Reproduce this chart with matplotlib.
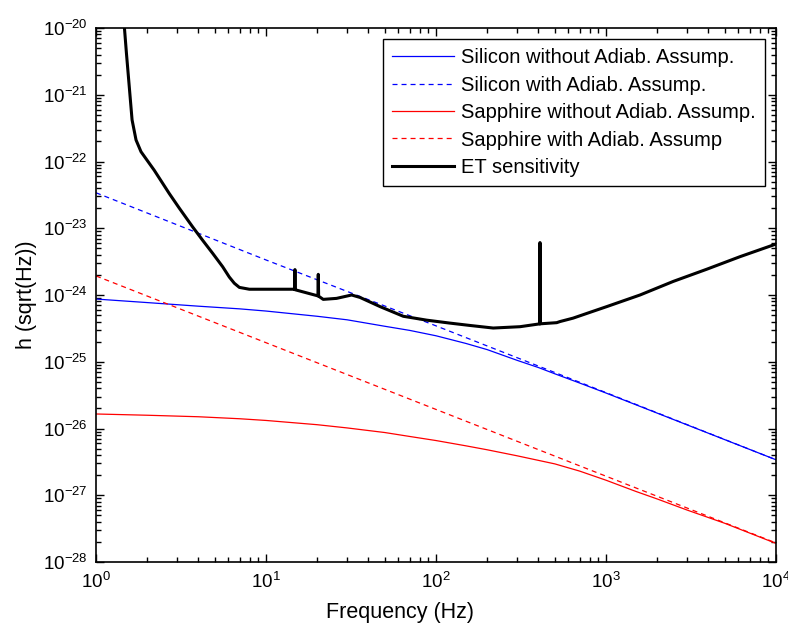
import matplotlib
matplotlib.use("Agg")
import matplotlib.pyplot as plt
from matplotlib.ticker import LogLocator, NullFormatter

plt.rcParams['font.family'] = ['Liberation Sans', 'DejaVu Sans']
plt.rcParams['mathtext.fontset'] = 'custom'
plt.rcParams['mathtext.rm'] = 'Liberation Sans'
plt.rcParams['mathtext.it'] = 'Liberation Sans'
plt.rcParams['lines.scale_dashes'] = False

# ---- data ----
f_si = [1, 2, 4, 7, 10, 20, 30, 50, 70, 100, 150, 200, 300, 400, 500, 700,
        1000, 2000, 5000, 10000]
h_si = [8.7e-25, 7.7e-25, 6.8e-25, 6.2e-25, 5.75e-25, 4.8e-25, 4.25e-25,
        3.4e-25, 2.95e-25, 2.45e-25, 1.88e-25, 1.52e-25, 1.05e-25, 8.2e-26,
        6.6e-26, 4.8e-26, 3.4e-26, 1.7e-26, 6.8e-27, 3.4e-27]

f_si_ad = [1, 10, 100, 1000, 10000]
h_si_ad = [3.4e-23, 3.35e-24, 3.45e-25, 3.45e-26, 3.4e-27]

f_sa = [1, 2, 4, 7, 10, 20, 30, 50, 70, 100, 150, 200, 300, 500, 700, 1000,
        1500, 2000, 3000, 5000, 10000]
h_sa = [1.65e-26, 1.58e-26, 1.5e-26, 1.4e-26, 1.32e-26, 1.14e-26, 1.02e-26,
        8.7e-27, 7.6e-27, 6.6e-27, 5.5e-27, 4.8e-27, 3.9e-27, 2.95e-27,
        2.3e-27, 1.68e-27, 1.14e-27, 8.8e-28, 6.0e-28, 3.8e-28, 1.9e-28]

f_sa_ad = [1, 10, 100, 1000, 10000]
h_sa_ad = [1.93e-24, 1.93e-25, 1.93e-26, 1.93e-27, 1.93e-28]

f_et = [1.47, 1.51, 1.57, 1.63, 1.72, 1.84, 2.2, 2.7, 3.09, 3.7, 4.24, 4.86,
        5.56, 6.08, 6.51, 6.97, 7.98, 14.79, 14.8, 14.81, 20.2, 20.3, 20.4,
        21.7, 26, 31.9, 35.7, 46.9, 64.2, 88.1, 120, 158, 217, 312, 408.9,
        409, 409.1, 513, 536, 640, 805, 1010, 1585, 2490, 3910, 6140, 10000]
h_et = [1.0e-20, 4.2e-21, 1.3e-21, 4.2e-22, 2.1e-22, 1.4e-22, 7.4e-23,
        3.3e-23, 2.0e-23, 1.05e-23, 6.6e-24, 4.2e-24, 2.65e-24, 1.86e-24,
        1.5e-24, 1.3e-24, 1.22e-24, 1.22e-24, 2.4e-24, 1.2e-24, 9.7e-25,
        2.04e-24, 9.6e-25, 8.6e-25, 8.9e-25, 1.0e-24, 9.2e-25, 6.7e-25,
        4.8e-25, 4.2e-25, 3.8e-25, 3.5e-25, 3.2e-25, 3.35e-25, 3.7e-25,
        6.1e-24, 3.7e-25, 3.85e-25, 4.0e-25, 4.5e-25, 5.5e-25, 6.7e-25,
        1.0e-24, 1.6e-24, 2.43e-24, 3.75e-24, 5.8e-24]

labels = ["Silicon without Adiab. Assump.", "Silicon with Adiab. Assump.",
          "Sapphire without Adiab. Assump.", "Sapphire with Adiab. Assump",
          "ET sensitivity"]

fig = plt.figure(figsize=(7.88, 6.26), dpi=100)
ax = fig.add_axes([96/788, 64/626, 680/788, 534/626])

dash = (3.6, 2.9)
ax.plot(f_si, h_si, color=(0, 0, 1), lw=0.9, label=labels[0])
ax.plot(f_si_ad, h_si_ad, color=(0, 0, 1), lw=0.9, ls=(0, dash), label=labels[1])
ax.plot(f_sa, h_sa, color=(1, 0, 0), lw=0.9, label=labels[2])
ax.plot(f_sa_ad, h_sa_ad, color=(1, 0, 0), lw=0.9, ls=(0, dash), label=labels[3])
ax.plot(f_et, h_et, color='black', lw=2.2, label=labels[4])

ax.set_xscale('log')
ax.set_yscale('log')
ax.set_xlim(1, 1e4)
ax.set_ylim(1e-28, 1e-20)

ax.xaxis.set_major_locator(LogLocator(base=10, numticks=10))
ax.yaxis.set_major_locator(LogLocator(base=10, numticks=12))
ax.xaxis.set_minor_locator(LogLocator(base=10, subs=range(2, 10), numticks=50))
ax.yaxis.set_minor_locator(LogLocator(base=10, subs=range(2, 10), numticks=50))
ax.xaxis.set_minor_formatter(NullFormatter())
ax.yaxis.set_minor_formatter(NullFormatter())

ax.tick_params(which='both', direction='in', top=True, right=True, width=1.0,
               labelsize=13.5)
ax.tick_params(which='major', length=6)
ax.tick_params(which='minor', length=3.5)
ax.tick_params(axis='x', which='major', pad=7)
ax.tick_params(axis='y', which='major', pad=6)
for s in ax.spines.values():
    s.set_linewidth(1.2)

ax.set_xlabel("Frequency (Hz)", fontsize=15.5, labelpad=4)
ax.xaxis.set_label_coords((400 - 96) / 680, -0.075)
ax.set_ylabel("h (sqrt(Hz))", fontsize=15.5, labelpad=4)

leg = ax.legend(loc='upper right', fontsize=14.5, frameon=True, fancybox=False,
                edgecolor='black', framealpha=1, handlelength=3.1,
                handletextpad=0.35, borderpad=0.45, labelspacing=0.42,
                borderaxespad=0.55)
leg.get_frame().set_linewidth(1.0)

fig.savefig("out.png", dpi=100, facecolor='white')
